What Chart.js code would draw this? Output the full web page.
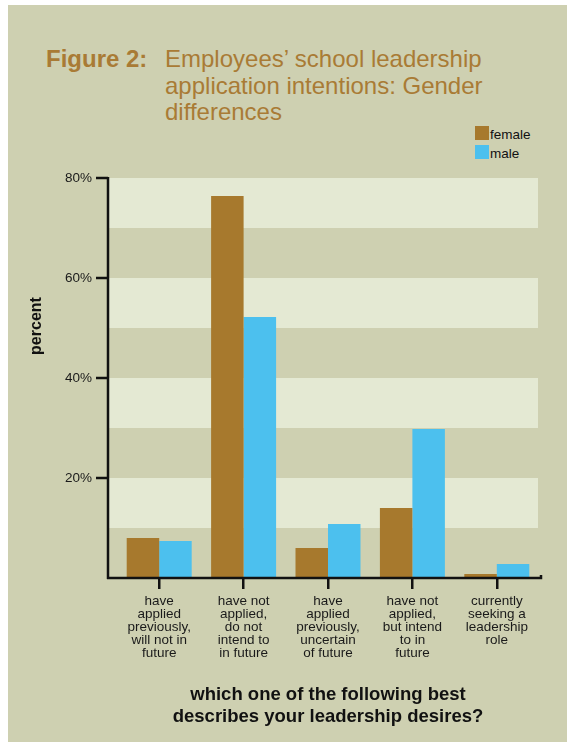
<!DOCTYPE html>
<html><head><meta charset="utf-8">
<script src="https://cdn.jsdelivr.net/npm/chart.js@4"></script>
<style>
html,body{margin:0;padding:0;background:#fff;}
body{width:567px;height:742px;position:relative;overflow:hidden;font-family:'Liberation Sans',Arial,sans-serif;}
#panel{position:absolute;left:8px;top:5px;right:0;bottom:0;background:#ced0b1;}
#c{position:absolute;left:0;top:0;}
.t{position:absolute;color:#a97b35;font-size:24px;line-height:26.5px;white-space:nowrap;}
#legend{position:absolute;left:475px;top:123px;font-size:13.5px;color:#111;}
#legend .row{display:flex;align-items:center;height:19px;}
#legend .sw{width:14px;height:14px;margin-right:1px;}
#legend .lb{position:relative;top:2px;line-height:14px;}
</style></head><body>
<div id="panel"></div>
<div class="t" style="left:46px;top:46px;font-weight:bold">Figure 2:</div>
<div class="t" style="left:165px;top:46px">Employees’ school leadership<br>application intentions: Gender<br>differences</div>
<div id="legend"></div>
<canvas id="c" width="567" height="742"></canvas>
<script>
const categories = [
  ["have", "applied", "previously,", "will not in", "future"],
  ["have not", "applied,", "do not", "intend to", "in future"],
  ["have", "applied", "previously,", "uncertain", "of future"],
  ["have not", "applied,", "but intend", "to in", "future"],
  ["currently", "seeking a", "leadership", "role"]
];
const seriesNames = ["female", "male"];
const female = [8.0, 76.4, 6.0, 14.0, 0.8];
const male = [7.4, 52.2, 10.8, 29.8, 2.8];
const yTicks = [20, 40, 60, 80];
const xTitle = ["which one of the following best", "describes your leadership desires?"];
const yTitle = "percent";

const colors = ["#a7792d", "#4cc0ee"];

const axesPlugin = {
  id: 'axesPlugin',
  beforeDatasetsDraw(chart) {
    const {ctx, chartArea: a, scales: {y}} = chart;
    const axisX = a.left - 9;
    const half = (yTicks[1] - yTicks[0]) / 2;
    ctx.save();
    ctx.fillStyle = '#e4e9d3';
    yTicks.forEach(t => {
      const top = y.getPixelForValue(t), bot = y.getPixelForValue(t - half);
      ctx.fillRect(axisX, top, a.right - 1 - axisX, bot - top);
    });
    ctx.restore();
  },
  afterDatasetsDraw(chart) {
    const {ctx, chartArea: a, scales: {y}} = chart;
    const axisX = a.left - 9;
    const y0 = y.getPixelForValue(0);
    ctx.save();
    ctx.strokeStyle = '#111';
    ctx.lineWidth = 2.5;
    ctx.beginPath();
    ctx.moveTo(axisX, y.getPixelForValue(y.max) - 1);
    ctx.lineTo(axisX, y0 + 1);
    ctx.moveTo(axisX - 1, y0);
    ctx.lineTo(a.right + 2, y0);
    ctx.lineTo(a.right + 2, y0 - 3);
    yTicks.forEach(t => {
      const py = y.getPixelForValue(t);
      ctx.moveTo(axisX - 12, py);
      ctx.lineTo(axisX, py);
    });
    ctx.stroke();
    ctx.translate(37, 326);
    ctx.rotate(-Math.PI / 2);
    ctx.fillStyle = '#111';
    ctx.font = "bold 16px 'Liberation Sans', Arial, sans-serif";
    ctx.textAlign = 'center';
    ctx.textBaseline = 'middle';
    ctx.fillText(yTitle, 0, 0);
    ctx.restore();
  }
};

const chart = new Chart(document.getElementById('c'), {
  type: 'bar',
  data: {
    labels: categories,
    datasets: [
      {label: seriesNames[0], data: female, backgroundColor: colors[0], borderWidth: 0},
      {label: seriesNames[1], data: male, backgroundColor: colors[1], borderWidth: 0}
    ]
  },
  options: {
    responsive: false,
    animation: false,
    layout: {padding: {top: 178, left: 0, right: 28, bottom: 0}},
    plugins: {legend: {display: false}, tooltip: {enabled: false}},
    datasets: {bar: {categoryPercentage: 0.77, barPercentage: 1}},
    scales: {
      y: {
        min: 0, max: 80,
        afterBuildTicks: s => { s.ticks = yTicks.map(v => ({value: v})); },
        afterFit: s => { s.width = 117; },
        grid: {drawOnChartArea: false, drawTicks: false},
        border: {display: false},
        ticks: {
          padding: 25, color: '#1a1a1a',
          font: {family: "'Liberation Sans', Arial, sans-serif", size: 13.5},
          callback: v => v + '%'
        }
      },
      x: {
        afterFit: s => { s.height = 164; },
        grid: {drawOnChartArea: false, drawTicks: true, tickLength: 11, color: '#111', lineWidth: 2.5, offset: false},
        border: {display: false},
        ticks: {
          padding: 6, color: '#1a1a1a', maxRotation: 0, autoSkip: false,
          font: {family: "'Liberation Sans', Arial, sans-serif", size: 13.5, lineHeight: 0.96}
        },
        title: {
          display: true, text: xTitle, color: '#111',
          font: {family: "'Liberation Sans', Arial, sans-serif", size: 18.5, weight: 'bold', lineHeight: 1.14},
          padding: {top: 0, bottom: 15}
        }
      }
    }
  },
  plugins: [axesPlugin]
});

const leg = document.getElementById('legend');
chart.data.datasets.forEach(d => {
  const row = document.createElement('div');
  row.className = 'row';
  const sw = document.createElement('div');
  sw.className = 'sw';
  sw.style.background = d.backgroundColor;
  const lb = document.createElement('span');
  lb.className = 'lb';
  lb.textContent = d.label;
  row.appendChild(sw); row.appendChild(lb);
  leg.appendChild(row);
});
</script>
</body></html>
